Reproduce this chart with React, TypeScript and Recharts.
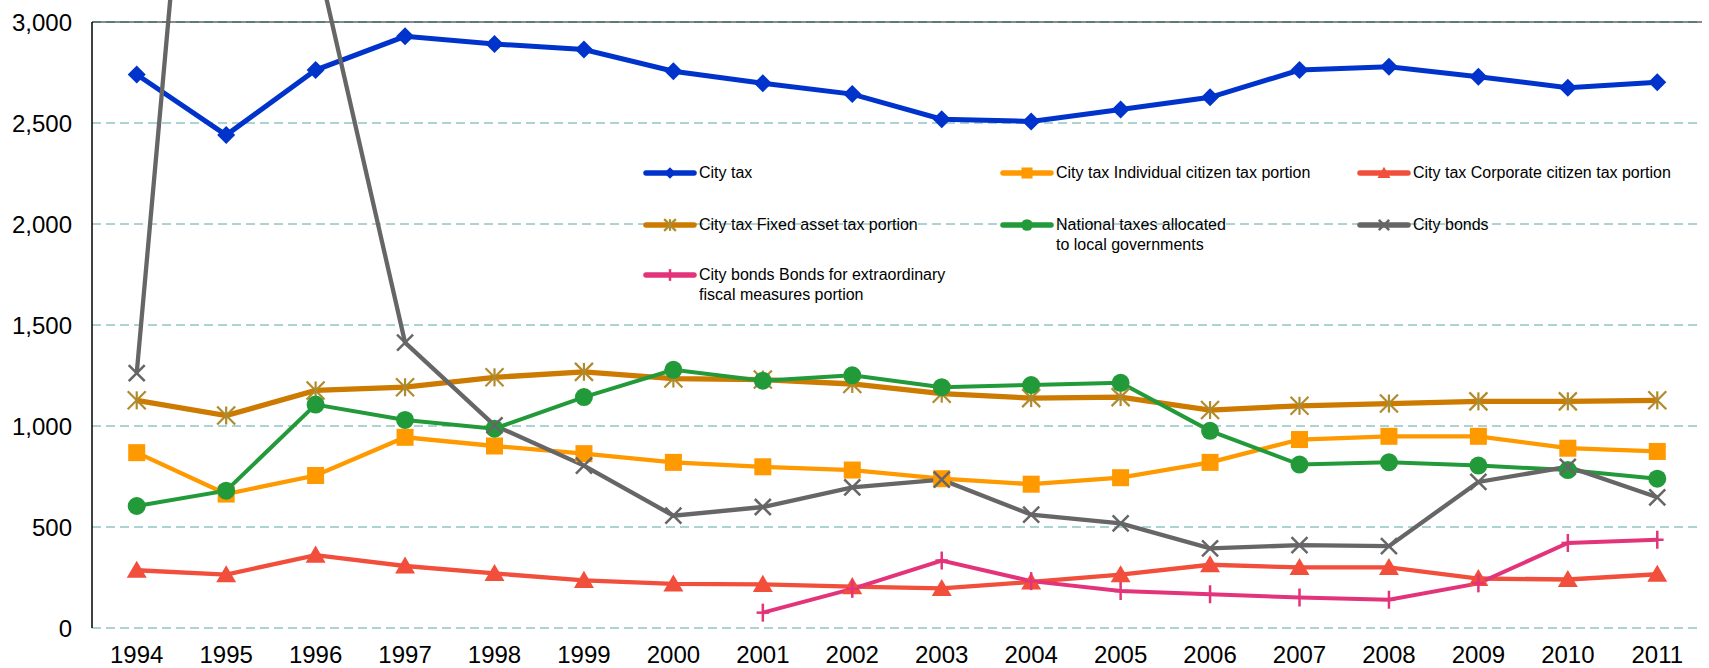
import React from 'react';
import { CartesianGrid, Legend, Line, LineChart, ReferenceLine, XAxis, YAxis } from 'recharts';

const years = [
  '1994', '1995', '1996', '1997', '1998', '1999', '2000', '2001', '2002',
  '2003', '2004', '2005', '2006', '2007', '2008', '2009', '2010', '2011',
];

const cityTax = [2740, 2440, 2762, 2929, 2891, 2864, 2756, 2697, 2643, 2519, 2508, 2567, 2627, 2762, 2778, 2729, 2675, 2702];
const individualTax = [868, 663, 755, 944, 901, 863, 820, 798, 782, 739, 712, 744, 820, 933, 949, 949, 890, 874];
const corporateTax = [286, 264, 361, 307, 270, 236, 218, 216, 205, 196, 228, 264, 313, 300, 300, 245, 240, 266];
const fixedAssetTax = [1127, 1052, 1176, 1192, 1241, 1268, 1235, 1230, 1208, 1160, 1138, 1143, 1079, 1100, 1111, 1122, 1122, 1127];
const nationalTaxes = [604, 680, 1106, 1030, 987, 1143, 1278, 1224, 1251, 1192, 1203, 1214, 976, 809, 820, 804, 782, 739];
const cityBonds = [1262, 6200, 3350, 1413, 1003, 804, 556, 599, 696, 734, 561, 518, 394, 410, 405, 723, 798, 647];
const extraordinaryBonds = [null, null, null, null, null, null, null, 76, 194, 334, 232, 183, 167, 151, 140, 221, 421, 437];

const yTicks = [0, 500, 1000, 1500, 2000, 2500, 3000];
// tick marks sit between the year bands
const bandEdges = [1, 2, 3, 4, 5, 6, 7, 8, 9, 10, 11, 12, 13, 14, 15, 16, 17];

const FONT = '"Liberation Sans", Arial, sans-serif';
const WIDTH = 1709;
const HEIGHT = 668;

type Shape = 'diamond' | 'square' | 'triangle' | 'star' | 'circle' | 'cross' | 'plus';

const series: {
  key: string;
  name: string;
  color: string;
  markerColor: string;
  width: number;
  shape: Shape;
  size: number;
}[] = [
  { key: 'cityTax', name: 'City tax', color: '#0033cc', markerColor: '#0033cc', width: 5, shape: 'diamond', size: 18 },
  { key: 'individualTax', name: 'City tax Individual citizen tax portion', color: '#ff9900', markerColor: '#ff9900', width: 4.3, shape: 'square', size: 17 },
  { key: 'corporateTax', name: 'City tax Corporate citizen tax portion', color: '#f24e3c', markerColor: '#f24e3c', width: 4.3, shape: 'triangle', size: 19 },
  { key: 'fixedAssetTax', name: 'City tax Fixed asset tax portion', color: '#cc7a00', markerColor: '#b08a2e', width: 5.3, shape: 'star', size: 18 },
  { key: 'nationalTaxes', name: 'National taxes allocated\nto local governments', color: '#229a3a', markerColor: '#229a3a', width: 4, shape: 'circle', size: 18 },
  { key: 'cityBonds', name: 'City bonds', color: '#666666', markerColor: '#666666', width: 4.3, shape: 'cross', size: 16 },
  { key: 'extraordinaryBonds', name: 'City bonds Bonds for extraordinary\nfiscal measures portion', color: '#e3337a', markerColor: '#e3337a', width: 4, shape: 'plus', size: 18 },
];

const data = years.map((year, i) => ({
  year,
  cityTax: cityTax[i],
  individualTax: individualTax[i],
  corporateTax: corporateTax[i],
  fixedAssetTax: fixedAssetTax[i],
  nationalTaxes: nationalTaxes[i],
  cityBonds: cityBonds[i],
  extraordinaryBonds: extraordinaryBonds[i],
}));

const Marker = ({ shape, cx, cy, size, color }: { shape: Shape; cx: number; cy: number; size: number; color: string }) => {
  const s = size / 2;
  switch (shape) {
    case 'diamond':
      return <polygon points={`${cx},${cy - s} ${cx + s},${cy} ${cx},${cy + s} ${cx - s},${cy}`} fill={color} />;
    case 'square':
      return <rect x={cx - s} y={cy - s} width={size} height={size} fill={color} />;
    case 'triangle':
      return <polygon points={`${cx},${cy - s} ${cx + s * 1.05},${cy + s * 0.8} ${cx - s * 1.05},${cy + s * 0.8}`} fill={color} />;
    case 'circle':
      return <circle cx={cx} cy={cy} r={s} fill={color} />;
    case 'star':
      return (
        <g stroke={color} strokeWidth={2.2}>
          <line x1={cx - s} y1={cy - s} x2={cx + s} y2={cy + s} />
          <line x1={cx - s} y1={cy + s} x2={cx + s} y2={cy - s} />
          <line x1={cx} y1={cy - s} x2={cx} y2={cy + s} />
        </g>
      );
    case 'cross':
      return (
        <g stroke={color} strokeWidth={2.5}>
          <line x1={cx - s} y1={cy - s} x2={cx + s} y2={cy + s} />
          <line x1={cx - s} y1={cy + s} x2={cx + s} y2={cy - s} />
        </g>
      );
    case 'plus':
    default:
      return (
        <g stroke={color} strokeWidth={2.5}>
          <line x1={cx} y1={cy - s} x2={cx} y2={cy + s} />
          <line x1={cx - s * 0.7} y1={cy} x2={cx + s * 0.7} y2={cy} />
        </g>
      );
  }
};

const legendCols = [643, 1000, 1357];
const legendRows = [173, 225, 275];

const LegendBox = () => (
  <div style={{ position: 'relative', width: WIDTH, height: HEIGHT, fontFamily: FONT, fontSize: 16, color: '#000' }}>
    {series.map((s, i) => (
      <div
        key={s.key}
        style={{
          position: 'absolute',
          left: legendCols[i % 3],
          top: legendRows[Math.floor(i / 3)] - 10,
          display: 'flex',
          alignItems: 'flex-start',
        }}
      >
        <svg width={56} height={20} style={{ flex: 'none' }}>
          <line x1={3} y1={10} x2={51} y2={10} stroke={s.color} strokeWidth={5.5} strokeLinecap="round" />
          <Marker shape={s.shape} cx={27} cy={10} size={s.size * 0.65} color={s.markerColor} />
        </svg>
        <div style={{ lineHeight: '20px', whiteSpace: 'pre' }}>{s.name}</div>
      </div>
    ))}
  </div>
);

const RevenueChart = () => {
  return (
    <div style={{ position: 'absolute', left: 0, top: 0, width: WIDTH, height: HEIGHT, fontFamily: FONT, background: '#fff' }}>
      {/* the bond line runs past the top of the plot, so drop the line clipping */}
      <style>{'.recharts-line, .recharts-line * { clip-path: none !important; }'}</style>
      <LineChart width={WIDTH} height={HEIGHT} data={data} margin={{ top: 22, right: 7, bottom: 0, left: 0 }}>
        <CartesianGrid vertical={false} stroke="#5ba8a8" strokeDasharray="9 5" strokeWidth={1} />
        <ReferenceLine y={3000} stroke="#8a8a8a" strokeWidth={2} />
        <ReferenceLine y={3000} stroke="#2f6b6b" strokeWidth={1} strokeDasharray="9 5" />
        <XAxis
          dataKey="year"
          scale="band"
          interval={0}
          height={40}
          axisLine={false}
          tickLine={false}
          tickSize={0}
          tickMargin={18}
          tick={{ fontSize: 24, fill: '#000', fontFamily: FONT }}
        />
        <XAxis
          xAxisId="edges"
          type="number"
          domain={[0, 18]}
          allowDataOverflow
          ticks={bandEdges}
          interval={0}
          mirror
          height={0}
          tickSize={7}
          tickFormatter={() => ''}
          axisLine={{ stroke: '#000', strokeWidth: 1.5 }}
          tickLine={{ stroke: '#000', strokeWidth: 1 }}
        />
        <YAxis
          width={92}
          domain={[0, 3000]}
          allowDataOverflow
          ticks={yTicks}
          interval={0}
          tickLine={false}
          tickSize={0}
          tickMargin={20}
          axisLine={{ stroke: '#000', strokeWidth: 1.5 }}
          tick={{ fontSize: 24, fill: '#000', fontFamily: FONT }}
          tickFormatter={(v: number) => v.toLocaleString('en-US')}
        />
        <Legend
          layout="horizontal"
          verticalAlign="middle"
          align="center"
          wrapperStyle={{ left: 0, top: 0, width: WIDTH, height: HEIGHT, pointerEvents: 'none' }}
          content={() => <LegendBox />}
        />
        {series.map((s) => (
          <Line
            key={s.key}
            dataKey={s.key}
            name={s.name}
            stroke={s.color}
            strokeWidth={s.width}
            isAnimationActive={false}
            activeDot={false}
            dot={(p: any) =>
              p.cy == null || p.value == null ? (
                <g key={`${s.key}-${p.index}`} />
              ) : (
                <g key={`${s.key}-${p.index}`}>
                  <Marker shape={s.shape} cx={p.cx} cy={p.cy} size={s.size} color={s.markerColor} />
                </g>
              )
            }
          />
        ))}
      </LineChart>
    </div>
  );
};

export default RevenueChart;
